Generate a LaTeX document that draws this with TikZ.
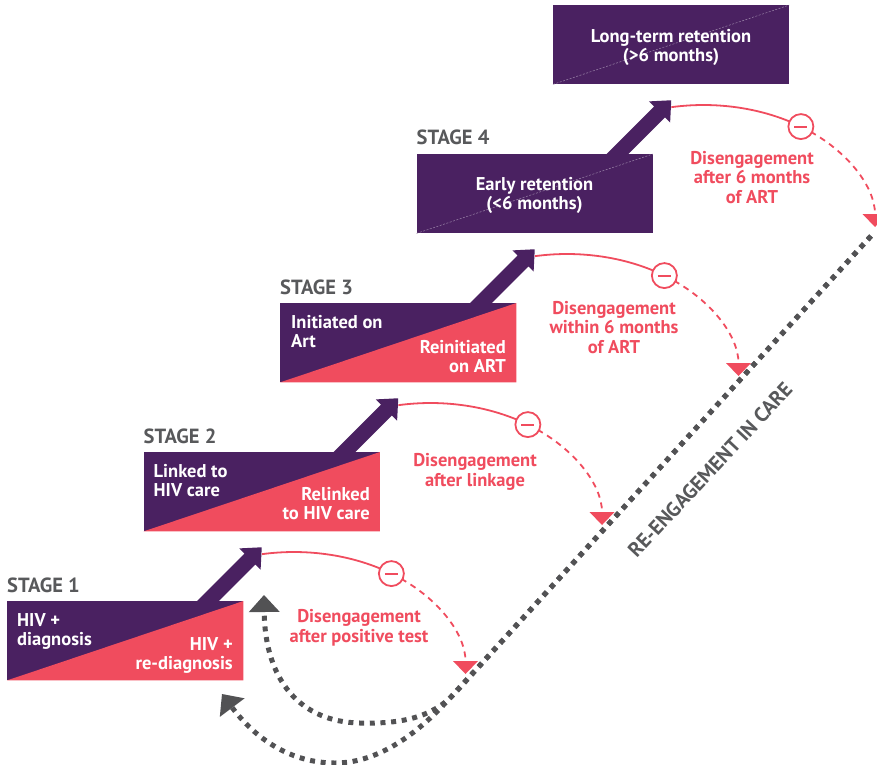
\documentclass[tikz,border=0pt]{standalone}
\usepackage{fontspec}
\setmainfont{PT Sans}
\usetikzlibrary{arrows.meta,calc}
\definecolor{hivpurple}{RGB}{74,33,97}
\definecolor{hivpink}{RGB}{240,76,94}
\definecolor{hivgray}{RGB}{88,89,91}
\definecolor{dotgray}{RGB}{82,82,84}
\begin{document}
\begin{tikzpicture}[x=1pt,y=-1pt,
  boxnode/.style={rectangle, fill=hivpurple, minimum width=236pt, minimum height=79pt, inner sep=0pt, anchor=north west},
  boxtext/.style={text=white, font=\bfseries\fontsize{18.5}{19}\selectfont, inner sep=0pt},
  redtext/.style={text=hivpink, font=\bfseries\fontsize{18.5}{19.3}\selectfont, inner sep=0pt, align=center, anchor=base},
  stagelabel/.style={text=hivgray, font=\bfseries\fontsize{20.5}{22}\selectfont, inner sep=0pt, anchor=base west},
  disarc/.style={draw=hivpink, line width=1.8pt},
  disdash/.style={draw=hivpink, line width=1.8pt, dash pattern=on 6pt off 5pt, -{Triangle[width=25pt,length=13pt,line width=0pt]}},
  minusnode/.style={circle, draw=hivpink, line width=1.8pt, fill=white, minimum size=25pt, inner sep=0pt, text=hivpink},
  reengage/.style={draw=dotgray, line width=5pt, dash pattern=on 5pt off 5.7pt, -{Triangle[width=31pt,length=17pt,line width=0pt]}},
  faintdiag/.style={draw=hivpurple!55!white, line width=0.5pt, dash pattern=on 2pt off 1.5pt}
]
\useasboundingbox (0,0) rectangle (877,764);

% purple progression arrows and disengagement arcs
\foreach \k/\bx/\by in {1/7/601,2/143.5/452,3/280/303,4/416.5/154}{
  \fill[hivpurple, shift={(\bx+201,\by)}, rotate=45]
    (-15,-7.75) -- (59.4,-7.75) -- (59.4,-15) -- (76,0) -- (59.4,15) -- (59.4,7.75) -- (-15,7.75) -- cycle;
  \coordinate (c\k) at (\bx+287,\by+73);
  \coordinate (a\k) at ($(c\k)+(100.8:171.5pt and 122pt)$);
  \coordinate (m\k) at ($(c\k)+(55.4:171.5pt and 122pt)$);
  \draw[disarc] (a\k) arc[start angle=100.8, end angle=55.4, x radius=171.5pt, y radius=122pt];
  \draw[disdash] (m\k) arc[start angle=55.4, end angle=0, x radius=171.5pt, y radius=122pt];
  \node[minusnode] (n\k) at (m\k) {\rule[-1pt]{13pt}{2pt}};
}

% re-engagement dotted paths
\coordinate (rtop) at (871,236);
\coordinate (rin) at (455,693);
\coordinate (rout) at (449,699);
\coordinate (rinend) at (264,595);
\coordinate (routend) at (222,694);
\draw[reengage] (rtop) -- (rin) .. controls (432,718) and (400,724) .. (360,723)
   .. controls (300,722) and (265,680) .. (rinend);
\draw[reengage] (rtop) -- (rout) .. controls (420,731) and (380,763) .. (335,763)
   .. controls (290,763) and (255,738) .. (routend);
\node[text=hivgray, font=\bfseries\fontsize{20.5}{22}\selectfont, rotate=47, inner sep=0pt] (relabel) at (710,470) {RE-ENGAGEMENT IN CARE};

% stage 1
\node[boxnode] (s1) at (7,601) {};
\fill[hivpink] (s1.south west) -- (s1.south east) -- (s1.north east) -- cycle;
\node[stagelabel] (l1) at (7,592) {STAGE 1};
\node[boxtext, align=left, anchor=base west] (s1a) at (17,645) {HIV +\\diagnosis};
\node[boxtext, align=right, anchor=base east] (s1b) at (233,669) {HIV +\\re-diagnosis};
\node[redtext] (d1) at (359,642) {Disengagement\\after positive test};

% stage 2
\node[boxnode] (s2) at (143.5,452) {};
\fill[hivpink] (s2.south west) -- (s2.south east) -- (s2.north east) -- cycle;
\node[stagelabel] (l2) at (143.5,443) {STAGE 2};
\node[boxtext, align=left, anchor=base west] (s2a) at (153.5,496) {Linked to\\HIV care};
\node[boxtext, align=right, anchor=base east] (s2b) at (370,519) {Relinked\\to HIV care};
\node[redtext] (d2) at (475,486) {Disengagement\\after linkage};

% stage 3
\node[boxnode] (s3) at (280,303) {};
\fill[hivpink] (s3.south west) -- (s3.south east) -- (s3.north east) -- cycle;
\node[stagelabel] (l3) at (280,294) {STAGE 3};
\node[boxtext, align=left, anchor=base west] (s3a) at (291,347) {Initiated on\\Art};
\node[boxtext, align=right, anchor=base east] (s3b) at (506,372) {Reinitiated\\on ART};
\node[redtext] (d3) at (614,353) {Disengagement\\within 6 months\\of ART};

% stage 4
\node[boxnode] (s4) at (416.5,154) {};
\draw[faintdiag] (s4.south west) -- (s4.north east);
\node[stagelabel] (l4) at (416.5,144) {STAGE 4};
\node[boxtext, align=center, anchor=base] (s4a) at (534.5,209) {Early retention\\(<6 months)};
\node[redtext] (d4) at (752,203) {Disengagement\\after 6 months\\of ART};

% long-term retention
\node[boxnode] (s5) at (553,5) {};
\draw[faintdiag] (s5.south west) -- (s5.north east);
\node[boxtext, align=center, anchor=base] (s5a) at (671,61) {Long-term retention\\(>6 months)};
\end{tikzpicture}
\end{document}
